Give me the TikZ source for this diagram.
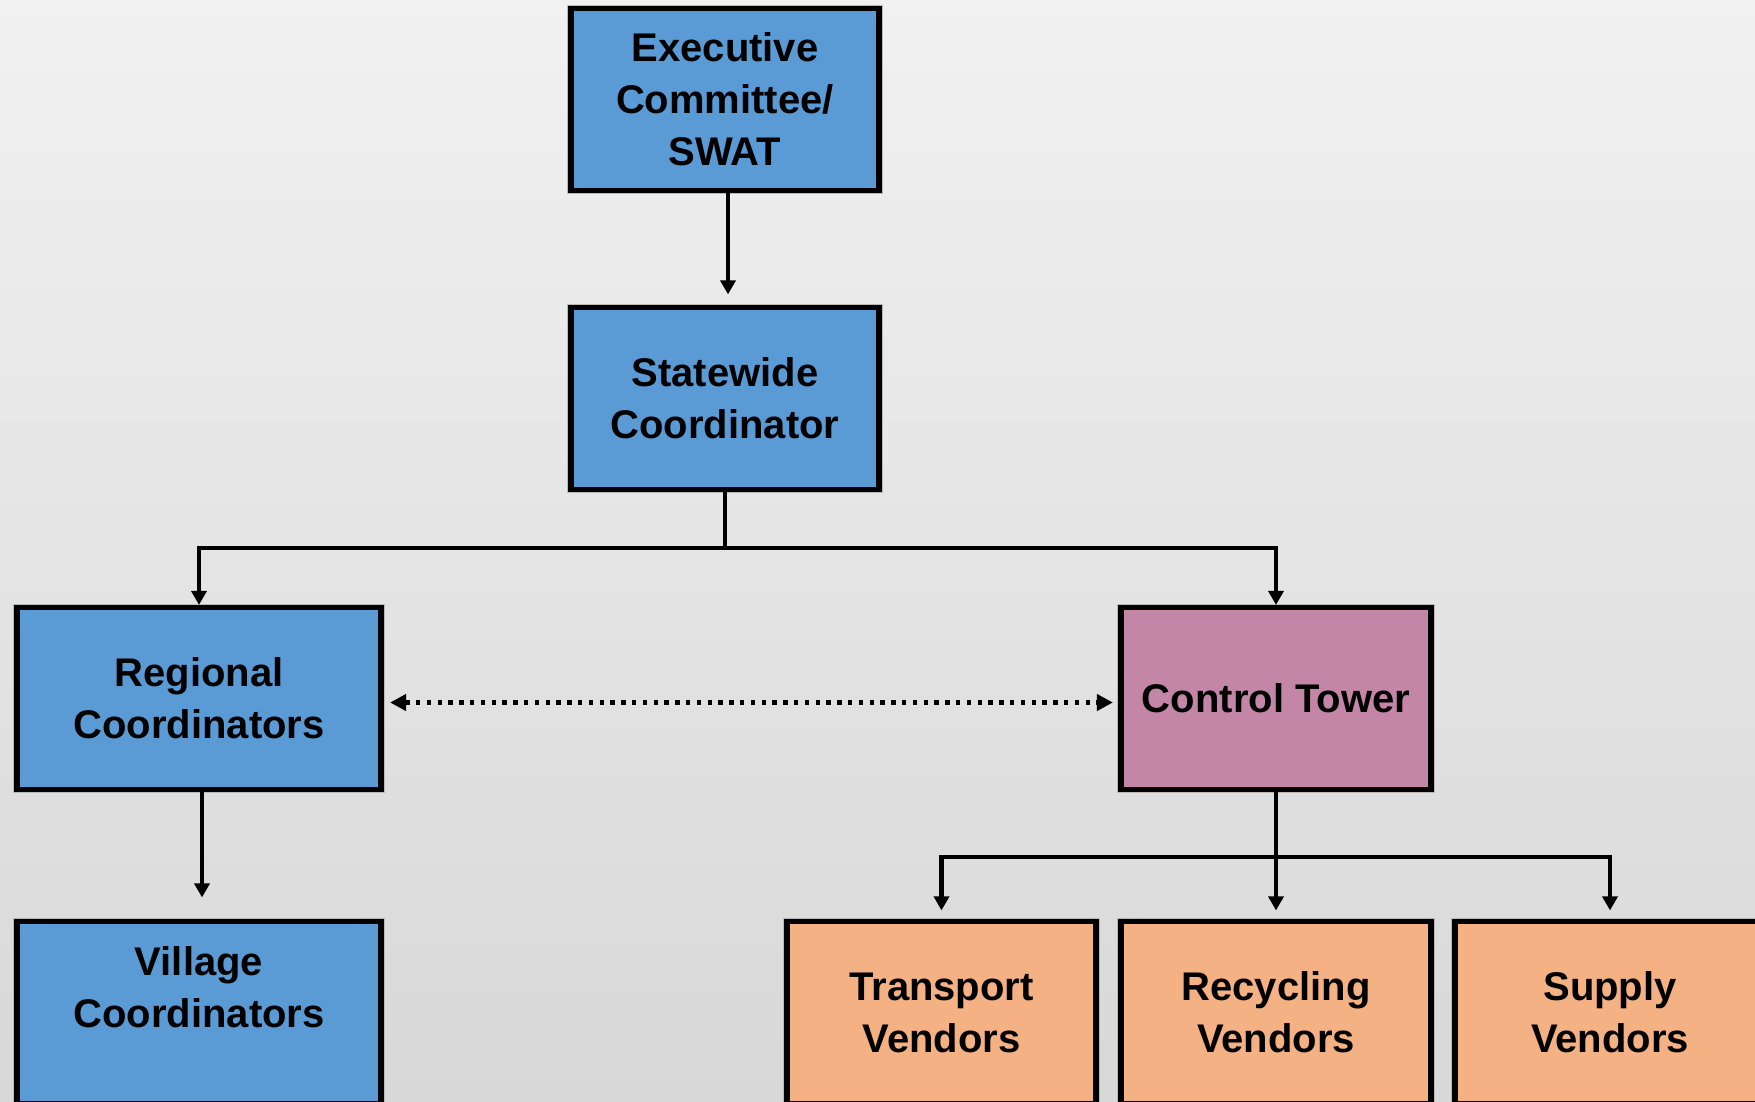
\documentclass[tikz,border=0pt]{standalone}
\usepackage{fontspec}
\setmainfont{Liberation Sans}
\usetikzlibrary{arrows.meta}
\definecolor{bgtop}{HTML}{F1F1F1}
\definecolor{bgbot}{HTML}{D8D8D8}
\definecolor{boxblue}{HTML}{5B9BD5}
\definecolor{boxpink}{HTML}{C486A6}
\definecolor{boxorange}{HTML}{F4B183}
\tikzset{
  orgbox/.style={rectangle, draw=black, line width=2.6pt, align=center,
    preaction={draw=gray!55, line width=3.6pt},
    font=\fontsize{20pt}{26pt}\selectfont\bfseries, inner sep=0pt,
    minimum width=154pt, minimum height=91pt},
  bluebox/.style={orgbox, fill=boxblue},
  pinkbox/.style={orgbox, fill=boxpink},
  orangebox/.style={orgbox, fill=boxorange},
  arr/.style={line width=2.3pt, black, -{Triangle[length=7pt,width=7.5pt]}},
  link/.style={line width=2.3pt, black},
  dotarr/.style={line width=2.4pt, black, dash pattern=on 2.2pt off 3.2pt,
    {Triangle[length=8pt,width=8pt]}-{Triangle[length=8pt,width=8pt]}}
}
\begin{document}
\begin{tikzpicture}[x=0.5pt, y=-0.5pt]
\useasboundingbox (0,0) rectangle (1755,1102);
\shade[top color=bgtop, bottom color=bgbot] (0,0) rectangle (1755,1102);
\clip (0,0) rectangle (1755,1102);

\node[bluebox] (exec) at (725,99.5) {Executive\\Committee/\\SWAT};
\node[bluebox] (state) at (725,398.5) {Statewide\\Coordinator};
\node[bluebox, minimum width=182pt] (reg) at (199,698.5) {Regional\\Coordinators};
\node[pinkbox, minimum width=155pt] (ct) at (1276,698.5) {Control Tower};
\node[bluebox, minimum width=182pt] (vil) at (199,1012.5) {Village\\Coordinators\\\mbox{}};
\node[orangebox, minimum width=154.5pt] (tr) at (941.5,1012.5) {Transport\\Vendors};
\node[orangebox, minimum width=155pt] (rec) at (1276,1012.5) {Recycling\\Vendors};
\node[orangebox, minimum width=155pt] (sup) at (1610,1012.5) {Supply\\Vendors};

\coordinate (j1) at (725,548);
\coordinate (j2) at (1276,857);

\draw[arr] ([xshift=1.5pt]exec.south) -- ([xshift=1.5pt,yshift=5.25pt]state.north);
\draw[link] (state.south) -- (j1);
\draw[arr] (j1) -| (reg.north);
\draw[arr] (j1) -| (ct.north);
\draw[arr] ([xshift=1.5pt]reg.south) -- ([xshift=1.5pt,yshift=10.75pt]vil.north);
\draw[arr] (ct.south) -- ([yshift=4.25pt]rec.north);
\draw[arr] (j2) -| ([yshift=4.25pt]tr.north);
\draw[arr] (j2) -| ([yshift=4.25pt]sup.north);
\draw[dotarr] ([xshift=3.25pt,yshift=-2pt]reg.east) -- ([xshift=-2.75pt,yshift=-2pt]ct.west);
\end{tikzpicture}
\end{document}
